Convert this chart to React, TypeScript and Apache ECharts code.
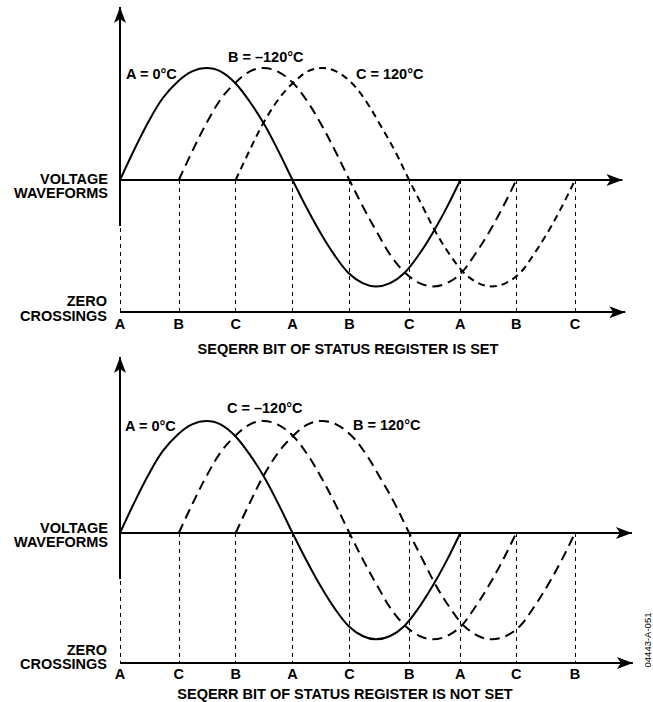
import React, { useEffect, useRef } from 'react';
import * as echarts from 'echarts';

// zero-crossing positions (phase, degrees) and their labels
const crossingDeg = [0, 62, 122, 182, 242, 305, 359, 418, 480];
const topCrossingLabels = ['A', 'B', 'C', 'A', 'B', 'C', 'A', 'B', 'C'];
const bottomCrossingLabels = ['A', 'C', 'B', 'A', 'C', 'B', 'A', 'C', 'B'];

// waveforms: [phase in degrees, voltage (positive peak = 1)]
const topA = [[0, 0], [15, 0.27], [30, 0.52], [45, 0.73], [61, 0.88], [76, 0.97], [91, 1], [106, 0.97], [121, 0.87], [136, 0.71], [152, 0.5], [167, 0.26], [182, 0], [197, -0.25], [212, -0.48], [227, -0.68], [241, -0.83], [256, -0.92], [270, -0.95], [285, -0.92], [300, -0.83], [315, -0.67], [330, -0.47], [345, -0.24], [359, 0]];
const topB = [[62, 0], [77, 0.27], [92, 0.52], [107, 0.73], [122, 0.87], [137, 0.97], [151, 1], [166, 0.97], [182, 0.87], [197, 0.71], [212, 0.5], [227, 0.26], [242, 0], [257, -0.25], [272, -0.48], [286, -0.68], [301, -0.83], [316, -0.92], [330, -0.95], [345, -0.92], [360, -0.83], [374, -0.67], [389, -0.47], [404, -0.24], [418, 0]];
const topC = [[122, 0], [137, 0.27], [152, 0.52], [168, 0.73], [183, 0.87], [198, 0.97], [213, 1], [228, 0.97], [244, 0.87], [259, 0.71], [274, 0.5], [290, 0.26], [305, 0], [320, -0.25], [334, -0.48], [349, -0.68], [363, -0.83], [378, -0.92], [392, -0.95], [407, -0.92], [422, -0.83], [436, -0.67], [451, -0.47], [466, -0.24], [480, 0]];

const bottomA = [[0, 0], [15, 0.27], [30, 0.52], [45, 0.73], [61, 0.88], [76, 0.97], [91, 1], [106, 0.97], [121, 0.87], [136, 0.71], [152, 0.5], [167, 0.26], [182, 0], [197, -0.25], [212, -0.48], [227, -0.68], [241, -0.83], [256, -0.92], [270, -0.95], [285, -0.92], [300, -0.83], [315, -0.67], [330, -0.47], [345, -0.24], [359, 0]];
const bottomC = [[62, 0], [77, 0.27], [92, 0.52], [107, 0.73], [122, 0.87], [137, 0.97], [151, 1], [166, 0.97], [182, 0.87], [197, 0.71], [212, 0.5], [227, 0.26], [242, 0], [257, -0.25], [272, -0.48], [286, -0.68], [301, -0.83], [316, -0.92], [330, -0.95], [345, -0.92], [360, -0.83], [374, -0.67], [389, -0.47], [404, -0.24], [418, 0]];
const bottomB = [[122, 0], [137, 0.27], [152, 0.52], [168, 0.73], [183, 0.87], [198, 0.97], [213, 1], [228, 0.97], [244, 0.87], [259, 0.71], [274, 0.5], [290, 0.26], [305, 0], [320, -0.25], [334, -0.48], [349, -0.68], [363, -0.83], [378, -0.92], [392, -0.95], [407, -0.92], [422, -0.83], [436, -0.67], [451, -0.47], [466, -0.24], [480, 0]];

const FONT = '"Liberation Sans", Arial, Helvetica, sans-serif';
const PX_PER_DEG = 0.948;
const PX_PER_UNIT = 112;

type Panel = {
  top: number;
  xMax: number;
  yMin: number;
  yMax: number;
  voltEnd: number;
  zeroEnd: number;
  yArrowEnd: number;
  yAxisSolidFrom: number;
  labels: string[];
  curves: { data: number[][]; dash: number[] | 'solid' }[];
};

const panels: Panel[] = [
  {
    top: 5, xMax: 545, yMin: -1.18, yMax: 1.5625, voltEnd: 530, zeroEnd: 533, yArrowEnd: 1.545, yAxisSolidFrom: -0.41,
    labels: topCrossingLabels,
    curves: [
      { data: topA, dash: 'solid' },
      { data: topB, dash: [10, 6] },
      { data: topC, dash: [7, 5] },
    ],
  },
  {
    top: 355, xMax: 545, yMin: -1.16, yMax: 1.589, voltEnd: 540, zeroEnd: 541, yArrowEnd: 1.571, yAxisSolidFrom: -0.41,
    labels: bottomCrossingLabels,
    curves: [
      { data: bottomA, dash: 'solid' },
      { data: bottomC, dash: [10, 6] },
      { data: bottomB, dash: [10, 6] },
    ],
  },
];

function buildOption() {
  const grid: any[] = [];
  const xAxis: any[] = [];
  const yAxis: any[] = [];
  const series: any[] = [];

  panels.forEach((p, i) => {
    grid.push({
      left: 120,
      top: p.top,
      width: p.xMax * PX_PER_DEG,
      height: (p.yMax - p.yMin) * PX_PER_UNIT,
      containLabel: false,
      outerBoundsMode: 'none',
    });
    xAxis.push({
      gridIndex: i,
      type: 'value',
      min: 0,
      max: p.xMax,
      axisLine: { show: false, onZero: false },
      axisTick: { show: false },
      splitLine: { show: false },
      axisLabel: {
        show: true,
        customValues: crossingDeg,
        formatter: (v: number) => {
          const k = crossingDeg.indexOf(Math.round(v));
          return k >= 0 ? p.labels[k] : '';
        },
        margin: 4,
        color: '#000',
        fontSize: 14.5,
        fontWeight: 'bold',
        fontFamily: FONT,
      },
    });
    yAxis.push({ gridIndex: i, type: 'value', min: p.yMin, max: p.yMax, show: false });

    p.curves.forEach((c) => {
      series.push({
        type: 'line',
        xAxisIndex: i,
        yAxisIndex: i,
        data: c.data,
        smooth: 0.35,
        showSymbol: false,
        silent: true,
        clip: false,
        lineStyle: { color: '#000', width: 2, type: c.dash },
      });
    });

    // dashed drop lines at each zero crossing
    series.push({
      type: 'line',
      xAxisIndex: i,
      yAxisIndex: i,
      data: [],
      silent: true,
      markLine: {
        silent: true,
        symbol: ['none', 'none'],
        label: { show: false },
        lineStyle: { color: '#000', width: 1, type: [4, 4] },
        emphasis: { disabled: true },
        data: crossingDeg.map((x) => [{ coord: [x, 0] }, { coord: [x, p.yMin] }]),
      },
    });

    // axes with arrows
    series.push({
      type: 'line',
      xAxisIndex: i,
      yAxisIndex: i,
      data: [],
      silent: true,
      markLine: {
        silent: true,
        symbol: ['none', 'arrow'],
        symbolSize: [9, 16],
        label: { show: false },
        lineStyle: { color: '#000', width: 2, type: 'solid' },
        emphasis: { disabled: true },
        data: [
          [{ coord: [0, p.yAxisSolidFrom] }, { coord: [0, p.yArrowEnd] }],
          [{ coord: [0, 0] }, { coord: [p.voltEnd, 0] }],
          [{ coord: [0, p.yMin] }, { coord: [p.zeroEnd, p.yMin] }],
        ],
      },
    });
  });

  const boldFont = `bold 14.5px ${FONT}`;
  const t = (text: string, x: number, y: number, align: string, font = boldFont, extra: any = {}) => ({
    type: 'text',
    x,
    y,
    silent: true,
    ...extra,
    style: { text, font, fill: '#000', align, verticalAlign: 'middle', textAlign: align, textVerticalAlign: 'middle', lineHeight: 14.5 },
  });

  const graphic = [
    t('VOLTAGE\nWAVEFORMS', 108, 185.75, 'right'),
    t('ZERO\nCROSSINGS', 107, 308.5, 'right'),
    t('A = 0°C', 126, 74, 'left'),
    t('B = –120°C', 228, 57, 'left'),
    t('C = 120°C', 356, 74, 'left'),
    t('SEQERR BIT OF STATUS REGISTER IS SET', 348, 349, 'center'),

    t('VOLTAGE\nWAVEFORMS', 108, 535, 'right'),
    t('ZERO\nCROSSINGS', 107, 657, 'right'),
    t('A = 0°C', 125, 426, 'left'),
    t('C = –120°C', 227, 408, 'left'),
    t('B = 120°C', 353, 425, 'left'),
    t('SEQERR BIT OF STATUS REGISTER IS NOT SET', 345, 694, 'center'),

    t('04443-A-051', 647, 640, 'center', `9.5px ${FONT}`, { rotation: Math.PI / 2 }),
  ];

  return {
    animation: false,
    backgroundColor: '#fff',
    grid,
    xAxis,
    yAxis,
    series,
    graphic,
  };
}

export default function App() {
  const ref = useRef<HTMLDivElement>(null);
  useEffect(() => {
    if (!ref.current) return;
    const chart = echarts.init(ref.current, undefined, { renderer: 'svg' });
    chart.setOption(buildOption() as any);
    return () => chart.dispose();
  }, []);
  return <div ref={ref} style={{ position: 'fixed', left: 0, top: 0, width: 653, height: 702, background: '#fff' }} />;
}
